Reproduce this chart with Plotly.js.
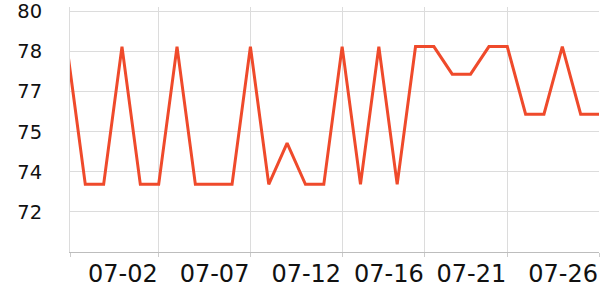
<!DOCTYPE html>
<html>
<head>
<meta charset="utf-8">
<script src="https://cdn.plot.ly/plotly-3.0.1.min.js"></script>
<style>html,body{margin:0;padding:0;background:#fff;}#chart{width:600px;height:300px;}</style>
</head>
<body>
<div id="chart"></div>
<script>
const dates = [
  '2024-06-27','2024-06-28','2024-06-29','2024-06-30','2024-07-01','2024-07-02',
  '2024-07-03','2024-07-04','2024-07-05','2024-07-06','2024-07-07','2024-07-08',
  '2024-07-09','2024-07-10','2024-07-11','2024-07-12','2024-07-13','2024-07-14',
  '2024-07-15','2024-07-16','2024-07-17','2024-07-18','2024-07-19','2024-07-20',
  '2024-07-21','2024-07-22','2024-07-23','2024-07-24','2024-07-25','2024-07-26'
];
const values = [
  78.6, 73.1, 73.1, 78.6, 73.1, 73.1,
  78.6, 73.1, 73.1, 73.1, 78.6, 73.1,
  74.75, 73.1, 73.1, 78.6, 73.1, 78.6,
  73.1, 78.6, 78.6, 77.5, 77.5, 78.6,
  78.6, 75.9, 75.9, 78.6, 75.9, 75.9
];
const xTickVals = ['2024-06-27 04:00','2024-07-02','2024-07-07','2024-07-12','2024-07-16 12:00','2024-07-21','2024-07-26'];
const xTickText = ['','07-02','07-07','07-12','07-16','07-21','07-26'];
const yTickVals = [72, 73.6, 75.2, 76.8, 78.4, 80];
const yTickText = ['72','74','75','77','78','80'];
const xRange = ['2024-06-27 04:00','2024-07-26'];
const yRange = [70.4, 80.18];

const trace = {
  x: dates, y: values, type: 'scatter', mode: 'lines',
  line: {color: '#ef4a2b', width: 3}, hoverinfo: 'none'
};
const layout = {
  width: 600, height: 300,
  margin: {l: 70, r: 1, t: 7, b: 48},
  paper_bgcolor: '#fff', plot_bgcolor: '#fff',
  showlegend: false,
  font: {family: 'DejaVu Sans', color: '#111'},
  xaxis: {
    type: 'date', range: xRange,
    tickmode: 'array', tickvals: xTickVals, ticktext: xTickText,
    ticklabelposition: 'outside left',
    showgrid: true, gridcolor: '#dcdcdc', gridwidth: 1,
    showline: true, linecolor: '#bdbdbd', linewidth: 1,
    ticks: 'outside', ticklen: 4, tickcolor: '#cccccc',
    tickfont: {size: 24, color: '#111', family: 'DejaVu Sans'},
    zeroline: false, fixedrange: true
  },
  yaxis: {
    range: yRange,
    tickmode: 'array', tickvals: yTickVals, ticktext: yTickText,
    showgrid: true, gridcolor: '#dcdcdc', gridwidth: 1,
    showline: true, linecolor: '#dcdcdc', linewidth: 1,
    ticks: '', ticklabelstandoff: 23, ticklabeloverflow: 'allow',
    tickfont: {size: 19.5, color: '#111', family: 'DejaVu Sans'},
    zeroline: false, fixedrange: true, automargin: false
  }
};
Plotly.newPlot('chart', [trace], layout, {staticPlot: true, displayModeBar: false});
</script>
</body>
</html>
